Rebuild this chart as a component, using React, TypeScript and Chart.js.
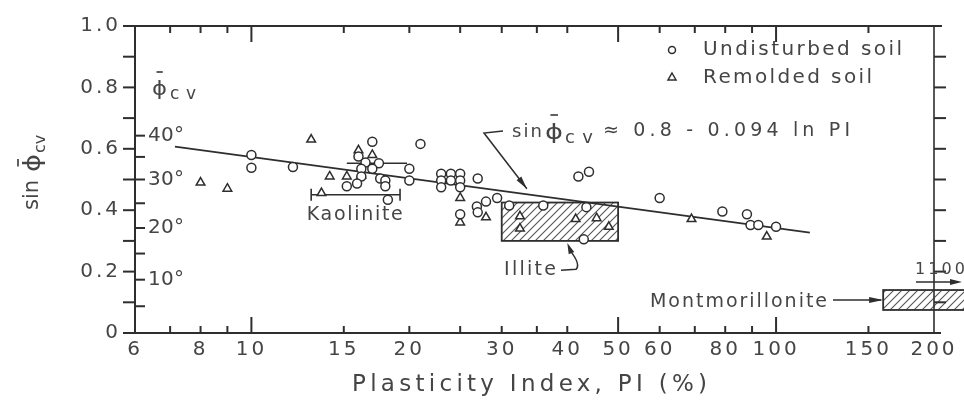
import React, { useEffect, useRef } from 'react';
import { Chart, registerables } from 'chart.js';

Chart.register(...registerables);

// ---------------- data ----------------
const X_TICKS = [6, 8, 10, 15, 20, 30, 40, 50, 60, 80, 100, 150, 200];
const X_MARKS = [7, 8, 9, 10, 15, 20, 25, 30, 35, 40, 50, 60, 70, 80, 90, 100, 150];
const X_LONG = [10, 50, 100];
const Y_TICKS = [0, 0.2, 0.4, 0.6, 0.8, 1.0];
const Y_MARKS = [0, 0.1, 0.2, 0.3, 0.4, 0.5, 0.6, 0.7, 0.8, 0.9, 1.0];
const DEG_MARKS = [5, 10, 15, 20, 25, 30, 35, 40];
const DEG_LABELS = [10, 20, 30, 40];

// [PI (%), sin phi_cv]
const undisturbed: [number, number][] = [
  [10, 0.58], [10, 0.538], [12, 0.541], [17, 0.623], [21, 0.616],
  [16, 0.575], [16.5, 0.555], [17.5, 0.553], [16.2, 0.535], [17, 0.535],
  [16.2, 0.51], [17.6, 0.503], [18, 0.497], [18, 0.478], [20, 0.535],
  [20, 0.497], [15.2, 0.478], [15.9, 0.487], [18.2, 0.434],
  [23, 0.519], [24, 0.519], [25, 0.519], [23, 0.497], [24, 0.497], [25, 0.497],
  [23, 0.475], [25, 0.475], [27, 0.503], [25, 0.387], [26.9, 0.412],
  [28, 0.428], [29.4, 0.44], [27, 0.393],
  [31, 0.415], [36, 0.415], [43.5, 0.41], [43, 0.305], [42, 0.51], [44, 0.525],
  [60, 0.44], [79, 0.396], [88, 0.387], [89.4, 0.352], [92.5, 0.352], [100, 0.346],
];
const remolded: [number, number][] = [
  [13, 0.63], [8, 0.49], [9, 0.47], [14.1, 0.51], [15.2, 0.51], [16, 0.595],
  [17, 0.58], [16.2, 0.513], [13.6, 0.456], [25, 0.44], [25, 0.36], [28, 0.377],
  [32.5, 0.38], [32.5, 0.34], [41.5, 0.371], [45.5, 0.374], [48, 0.346],
  [69, 0.371], [96, 0.314],
];
const trendPI = [7.15, 116];
const trendSin = [0.607, 0.327];
const kaolinitePI = [13, 19.2];
const kaoliniteSin = [0.45, 0.45];
const rangePI = [15.2, 19.8];
const rangeSin = [0.553, 0.553];
const illitePI = [30, 50];
const illiteSin = [0.3, 0.425];
const montPI = [160, 1100];
const montSin = [0.075, 0.14];

// ---------------- style ----------------
const INK = '#2e2e2e';
const TEXT = '#454545';
const FONT = '"DejaVu Sans", "Liberation Sans", sans-serif';
const PHI = 'ϕ';

function makeHatch(): CanvasPattern | string {
  const c = document.createElement('canvas');
  c.width = 8;
  c.height = 8;
  const g = c.getContext('2d');
  if (!g) return '#ccc';
  g.strokeStyle = '#555';
  g.lineWidth = 1.1;
  g.beginPath();
  g.moveTo(-2, 10); g.lineTo(10, -2);
  g.moveTo(-2, 2); g.lineTo(2, -2);
  g.moveTo(6, 10); g.lineTo(10, 6);
  g.stroke();
  return g.createPattern(c, 'repeat') || '#ccc';
}

function fitText(ctx: CanvasRenderingContext2D, s: string, x: number, y: number, size: number,
  width?: number, align: CanvasTextAlign = 'left', baseline: CanvasTextBaseline = 'middle') {
  ctx.font = `${size}px ${FONT}`;
  (ctx as any).letterSpacing = '0px';
  if (width) {
    const w = ctx.measureText(s).width;
    const sp = (width - w) / Math.max(1, s.length - 1);
    (ctx as any).letterSpacing = `${sp}px`;
  }
  ctx.textAlign = align;
  ctx.textBaseline = baseline;
  ctx.fillText(s, x, y);
  (ctx as any).letterSpacing = '0px';
}

// phi with overbar, stretched horizontally to a target width
function drawPhiBar(ctx: CanvasRenderingContext2D, x: number, baseY: number, size: number, width: number, barY: number) {
  ctx.save();
  ctx.font = `${size}px ${FONT}`;
  ctx.textAlign = 'left';
  ctx.textBaseline = 'alphabetic';
  const w = ctx.measureText(PHI).width;
  const sx = width / Math.max(1, w);
  ctx.translate(x, baseY);
  ctx.scale(sx, 1);
  ctx.fillText(PHI, 0, 0);
  ctx.restore();
  ctx.save();
  ctx.lineWidth = 1.7;
  ctx.strokeStyle = ctx.fillStyle as string;
  ctx.beginPath();
  ctx.moveTo(x + width * 0.3, barY);
  ctx.lineTo(x + width * 0.72, barY);
  ctx.stroke();
  ctx.restore();
}

function line(ctx: CanvasRenderingContext2D, x1: number, y1: number, x2: number, y2: number) {
  ctx.beginPath();
  ctx.moveTo(x1, y1);
  ctx.lineTo(x2, y2);
  ctx.stroke();
}

function arrowHead(ctx: CanvasRenderingContext2D, fx: number, fy: number, tx: number, ty: number, len = 11, half = 3) {
  const a = Math.atan2(ty - fy, tx - fx);
  ctx.beginPath();
  ctx.moveTo(tx, ty);
  ctx.lineTo(tx - len * Math.cos(a) + half * Math.sin(a), ty - len * Math.sin(a) - half * Math.cos(a));
  ctx.lineTo(tx - len * Math.cos(a) - half * Math.sin(a), ty - len * Math.sin(a) + half * Math.cos(a));
  ctx.closePath();
  ctx.fill();
}

function makeDecor(pattern: CanvasPattern | string) {
  return {
    id: 'decor',
    beforeDraw(chart: any) {
      chart.ctx.letterSpacing = '3px';
    },
    beforeDatasetsDraw(chart: any) {
      const ctx: CanvasRenderingContext2D = chart.ctx;
      const xs = chart.scales.x;
      const ys = chart.scales.y;
      ctx.save();
      (ctx as any).letterSpacing = '0px';
      const box = (pi: number[], sn: number[]) => {
        const x1 = xs.getPixelForValue(pi[0]);
        const x2 = xs.getPixelForValue(pi[1]);
        const y1 = ys.getPixelForValue(sn[1]);
        const y2 = ys.getPixelForValue(sn[0]);
        ctx.fillStyle = pattern as any;
        ctx.fillRect(x1, y1, x2 - x1, y2 - y1);
        ctx.strokeStyle = INK;
        ctx.lineWidth = 1.8;
        ctx.strokeRect(x1, y1, x2 - x1, y2 - y1);
      };
      box(illitePI, illiteSin);
      box(montPI, montSin);
      ctx.restore();
    },
    afterDraw(chart: any) {
      const ctx: CanvasRenderingContext2D = chart.ctx;
      const xs = chart.scales.x;
      const ys = chart.scales.y;
      const { left: L, right: R, top: T, bottom: B } = chart.chartArea;
      ctx.save();
      (ctx as any).letterSpacing = '0px';
      ctx.strokeStyle = INK;
      ctx.fillStyle = INK;
      ctx.lineWidth = 2;
      // frame
      line(ctx, L - 1, B, R + 7, B);
      line(ctx, L - 1, T, R + 8, T);
      line(ctx, L, T, L, B);
      ctx.lineWidth = 1.6;
      line(ctx, R, T, R, B);
      ctx.lineWidth = 2;
      // x marks (inward, bottom and top)
      X_MARKS.forEach((v) => {
        const px = xs.getPixelForValue(v);
        const len = X_LONG.includes(v) ? 16 : 7;
        line(ctx, px, B, px, B - len);
        line(ctx, px, T, px, T + len);
      });
      // y marks left (outward) and right (outward)
      Y_MARKS.forEach((v) => {
        const py = ys.getPixelForValue(v);
        line(ctx, L - 12, py, L, py);
        if (v > 0 && v < 1) line(ctx, R, py, R + 12, py);
      });
      // degree marks (inward)
      DEG_MARKS.forEach((d) => {
        const py = ys.getPixelForValue(Math.sin((d * Math.PI) / 180));
        line(ctx, L, py, L + 10, py);
      });
      ctx.fillStyle = TEXT;
      DEG_LABELS.forEach((d) => {
        const py = ys.getPixelForValue(Math.sin((d * Math.PI) / 180));
        fitText(ctx, `${d}°`, L + 13, py, 20, 36);
      });

      // phi_cv label (top-left)
      ctx.fillStyle = TEXT;
      drawPhiBar(ctx, 152, 95, 20, 15, 72);
      fitText(ctx, 'cv', 170, 99, 17, 26, 'left', 'alphabetic');

      // y axis title (rotated)
      ctx.save();
      ctx.translate(38, 210);
      ctx.rotate(-Math.PI / 2);
      ctx.font = `21px ${FONT}`;
      ctx.textAlign = 'left';
      ctx.textBaseline = 'alphabetic';
      ctx.fillText('sin', 0, 0);
      drawPhiBar(ctx, 38, 2, 23, 18, -20);
      ctx.font = `16px ${FONT}`;
      ctx.textAlign = 'left';
      ctx.textBaseline = 'alphabetic';
      ctx.fillText('cv', 57, 7);
      ctx.restore();

      // x axis title
      fitText(ctx, 'Plasticity Index, PI (%)', 352, 391, 23, 355, 'left', 'alphabetic');

      // legend
      ctx.strokeStyle = INK;
      ctx.lineWidth = 1.5;
      ctx.beginPath();
      ctx.arc(672, 50, 3.5, 0, Math.PI * 2);
      ctx.stroke();
      ctx.beginPath();
      ctx.moveTo(672, 73);
      ctx.lineTo(676, 80);
      ctx.lineTo(668, 80);
      ctx.closePath();
      ctx.stroke();
      ctx.fillStyle = TEXT;
      fitText(ctx, 'Undisturbed soil', 703, 50, 20, 199);
      fitText(ctx, 'Remolded soil', 703, 78, 20, 169);

      // equation
      fitText(ctx, 'sin', 512, 137, 18, 30, 'left', 'alphabetic');
      drawPhiBar(ctx, 545, 139, 21, 18, 115);
      fitText(ctx, 'cv', 565, 143, 18, 28, 'left', 'alphabetic');
      fitText(ctx, '≈ 0.8 - 0.094 ln PI', 603, 131, 19, 247);
      ctx.strokeStyle = INK;
      ctx.fillStyle = INK;
      ctx.lineWidth = 1.5;
      const eqTipX = xs.getPixelForValue(33.5);
      const eqTipY = ys.getPixelForValue(0.47);
      ctx.beginPath();
      ctx.moveTo(503, 131);
      ctx.lineTo(484, 133);
      ctx.lineTo(eqTipX, eqTipY);
      ctx.stroke();
      arrowHead(ctx, 484, 133, eqTipX, eqTipY, 13, 3);

      // Kaolinite label
      ctx.fillStyle = TEXT;
      const kx = xs.getPixelForValue(15.8);
      const ky = ys.getPixelForValue(0.384);
      fitText(ctx, 'Kaolinite', kx, ky, 19, 96, 'center');

      // Illite label + curved arrow
      const ix = xs.getPixelForValue(30.3);
      const iy = ys.getPixelForValue(0.204);
      fitText(ctx, 'Illite', ix, iy, 19, 52, 'left');
      const itx = xs.getPixelForValue(40);
      const ity = ys.getPixelForValue(illiteSin[0]) + 2;
      ctx.strokeStyle = INK;
      ctx.fillStyle = INK;
      ctx.beginPath();
      ctx.moveTo(ix + 57, iy);
      ctx.lineTo(ix + 72, iy - 1);
      ctx.quadraticCurveTo(ix + 77, iy - 6, itx + 3, ity + 8);
      ctx.stroke();
      arrowHead(ctx, itx + 5, ity + 12, itx, ity, 11, 3);

      // Montmorillonite label + arrow
      const mx = xs.getPixelForValue(montPI[0]);
      const my = (ys.getPixelForValue(montSin[0]) + ys.getPixelForValue(montSin[1])) / 2;
      ctx.fillStyle = TEXT;
      fitText(ctx, 'Montmorillonite', 650, my + 2, 19, 177, 'left');
      ctx.fillStyle = INK;
      line(ctx, 833, my, mx - 2, my);
      arrowHead(ctx, 833, my, mx, my, 14, 3);

      // 1100 label with arrow
      ctx.fillStyle = TEXT;
      fitText(ctx, '1100', 915, 270, 16, 50, 'left');
      ctx.fillStyle = INK;
      line(ctx, 916, 282, 958, 282);
      arrowHead(ctx, 916, 282, 962, 282, 12, 3);

      ctx.restore();
    },
  };
}

export default function App() {
  const ref = useRef<HTMLCanvasElement>(null);
  useEffect(() => {
    const canvas = ref.current;
    if (!canvas) return;
    const pattern = makeHatch();
    const pts = (a: [number, number][]) => a.map(([x, y]) => ({ x, y }));
    const pair = (xa: number[], ya: number[]) => xa.map((x, i) => ({ x, y: ya[i] }));
    const tickFont = { family: FONT, size: 20 };
    const chart = new Chart(canvas, {
      type: 'scatter',
      data: {
        datasets: [
          {
            label: 'Undisturbed soil',
            data: pts(undisturbed),
            pointStyle: 'circle',
            pointRadius: 4.5,
            pointBorderWidth: 1.5,
            borderColor: INK,
            backgroundColor: '#ffffff',
          },
          {
            label: 'Remolded soil',
            data: pts(remolded),
            pointStyle: 'triangle',
            pointRadius: 5,
            pointBorderWidth: 1.5,
            borderColor: INK,
            backgroundColor: '#ffffff',
          },
          {
            label: 'sin ϕcv ≈ 0.8 - 0.094 ln PI',
            data: pair(trendPI, trendSin),
            showLine: true,
            pointRadius: 0,
            borderColor: INK,
            borderWidth: 1.8,
          },
          {
            label: 'Kaolinite',
            data: pair(kaolinitePI, kaoliniteSin),
            showLine: true,
            pointStyle: 'line',
            rotation: 90,
            pointRadius: 6,
            pointBorderWidth: 1.6,
            borderColor: INK,
            borderWidth: 1.5,
          },
          {
            label: 'range',
            data: pair(rangePI, rangeSin),
            showLine: true,
            pointRadius: 0,
            borderColor: INK,
            borderWidth: 1.3,
          },
        ] as any,
      },
      options: {
        responsive: false,
        animation: false,
        devicePixelRatio: 1,
        events: [],
        layout: { padding: { top: 15, right: 30, left: 0, bottom: 0 } },
        plugins: {
          legend: { display: false },
          tooltip: { enabled: false },
          title: { display: false },
        },
        scales: {
          x: {
            type: 'logarithmic',
            min: 6,
            max: 200,
            position: 'bottom',
            grid: { display: false, drawTicks: false },
            border: { display: false },
            afterBuildTicks: (s: any) => {
              s.ticks = X_TICKS.map((v) => ({ value: v }));
            },
            afterFit: (s: any) => {
              s.height = 69;
            },
            ticks: {
              autoSkip: false,
              maxRotation: 0,
              minRotation: 0,
              padding: 5,
              color: TEXT,
              font: tickFont,
              callback: (v: any) => String(v),
            },
          },
          y: {
            type: 'linear',
            min: 0,
            max: 1,
            grid: { display: false, drawTicks: false },
            border: { display: false },
            afterBuildTicks: (s: any) => {
              s.ticks = Y_TICKS.map((v) => ({ value: v }));
            },
            afterFit: (s: any) => {
              s.width = 135;
            },
            ticks: {
              padding: 14,
              color: TEXT,
              font: tickFont,
              callback: (v: any) => (Number(v) === 0 ? '0' : Number(v).toFixed(1)),
            },
          },
        } as any,
      },
      plugins: [makeDecor(pattern)],
    });
    return () => chart.destroy();
  }, []);
  return (
    <div style={{ position: 'fixed', left: 0, top: 0, width: 964, height: 402, background: '#fff' }}>
      <canvas ref={ref} width={964} height={402} style={{ width: 964, height: 402, display: 'block' }} />
    </div>
  );
}
